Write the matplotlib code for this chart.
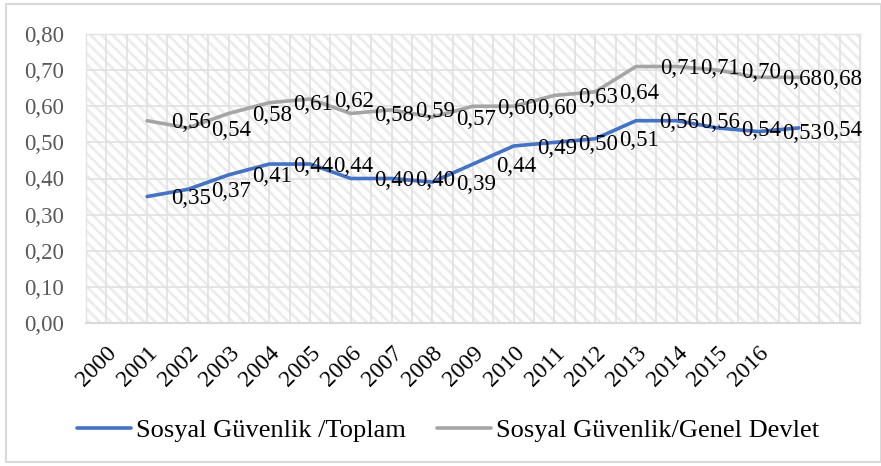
import matplotlib
matplotlib.use("Agg")
import matplotlib.pyplot as plt
from matplotlib.patches import Rectangle
import matplotlib.transforms as mtransforms
import numpy as np

plt.rcParams['font.family'] = ['Liberation Serif', 'DejaVu Serif']
plt.rcParams['hatch.linewidth'] = 2.0
plt.rcParams['hatch.color'] = '#ececec'

years = [str(y) for y in range(2000, 2017)]
n_categories = 19
series_positions = list(range(1, 18))
toplam = [0.35, 0.37, 0.41, 0.44, 0.44, 0.40, 0.40, 0.39, 0.44, 0.49, 0.50,
          0.51, 0.56, 0.56, 0.54, 0.53, 0.54]
genel = [0.56, 0.54, 0.58, 0.61, 0.62, 0.58, 0.59, 0.57, 0.60, 0.60, 0.63,
         0.64, 0.71, 0.71, 0.70, 0.68, 0.68]
name_toplam = "Sosyal Güvenlik /Toplam"
name_genel = "Sosyal Güvenlik/Genel Devlet"

W, H = 881, 466
fig = plt.figure(figsize=(W / 100, H / 100), dpi=100)
left, right, top, bottom = 86, 860, 34, 323
ax = fig.add_axes([left / W, 1 - bottom / H, (right - left) / W, (bottom - top) / H])

# outer chart border
fig.patches.append(Rectangle((6 / W, 4 / H), (W - 6) / W, (H - 8) / H,
                             transform=fig.transFigure, fill=False,
                             edgecolor='#d9d9d9', linewidth=1.5))

ax.set_xlim(-0.5, n_categories - 0.5)
ax.set_ylim(0, 0.8)

# hatched plot-area background
ax.add_patch(Rectangle((0, 0), 1, 1, transform=ax.transAxes, facecolor='white',
                       hatch='\\\\\\', edgecolor='#ececec', linewidth=0, zorder=0))

# gridlines
for xv in np.arange(-0.5, n_categories - 0.49, 0.5):
    ax.axvline(xv, color='#e0e0e0', lw=1.2, zorder=1)
for yv in np.arange(0.1, 0.81, 0.1):
    ax.axhline(yv, color='#e0e0e0', lw=1.2, zorder=1)

ax.plot(series_positions, toplam, color='#4472C4', lw=2.6, label=name_toplam,
        solid_capstyle='round', zorder=3)
ax.plot(series_positions, genel, color='#A5A5A5', lw=2.6, label=name_genel,
        solid_capstyle='round', zorder=3)

for xs, vals in ((series_positions, toplam), (series_positions, genel)):
    for x, v in zip(xs, vals):
        ax.annotate(f"{v:.2f}".replace('.', ','), xy=(x + 1.07, v),
                    xytext=(0, -1.5), textcoords='offset points',
                    ha='center', va='center', fontsize=16.5, color='black',
                    zorder=4)

ax.set_yticks(np.arange(0, 0.81, 0.1))
ax.set_yticklabels([f"{v:.2f}".replace('.', ',') for v in np.arange(0, 0.81, 0.1)],
                   fontsize=16.5, color='#595959')
ax.set_xticks(range(len(years)))
ax.set_xticklabels(years, rotation=45, ha='right', va='top',
                   rotation_mode='anchor', fontsize=17, color='black')
shift = mtransforms.ScaledTranslation(4 / 100, 0, fig.dpi_scale_trans)
for lab in ax.get_xticklabels():
    lab.set_transform(lab.get_transform() + shift)
ax.tick_params(axis='both', length=0)
ax.tick_params(axis='y', pad=16)
ax.tick_params(axis='x', pad=14)

for s in ('top', 'left', 'right'):
    ax.spines[s].set_color('#e3e3e3')
    ax.spines[s].set_linewidth(1.0)
ax.spines['bottom'].set_color('#d9d9d9')
ax.spines['bottom'].set_linewidth(1.5)

handles, labels = ax.get_legend_handles_labels()
fig.legend(handles, labels, loc='center', bbox_to_anchor=(448 / W, 1 - 430 / H),
           ncol=2, frameon=False, fontsize=19, handlelength=2.05,
           handletextpad=0.2, columnspacing=1.15, borderaxespad=0)

fig.savefig('out.png', dpi=100)
